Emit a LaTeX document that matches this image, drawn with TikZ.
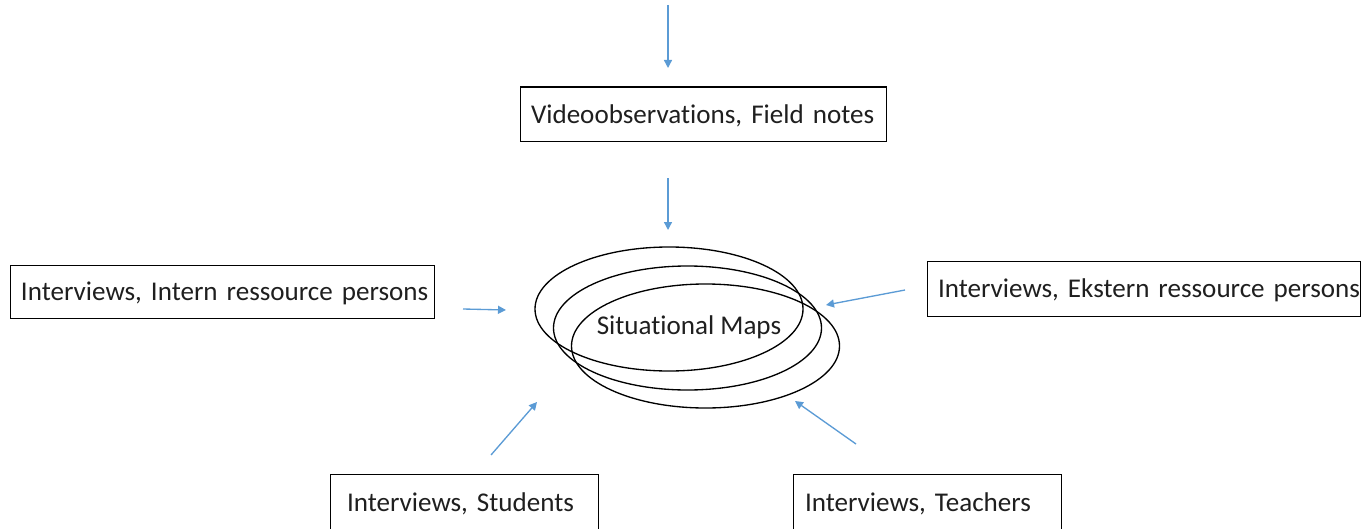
\documentclass[tikz,border=0pt]{standalone}
\usepackage{fontspec}
\setmainfont[Ligatures = {NoCommon}]{Carlito}
\usetikzlibrary{arrows.meta,shapes.geometric}
\definecolor{arrowblue}{HTML}{5B9BD5}
\begin{document}
\begin{tikzpicture}[x = .75pt, y = -.75pt]
		\tikzstyle{every node} = [font = \fontsize{20.3}{24}\selectfont, text = black!88]
		\tikzstyle{source} = [draw, line width = .75pt, inner xsep = 8.25pt, inner ysep = 0pt, text depth = 0pt, align = left]
		\tikzstyle{mapring} = [ellipse, draw, line width = 1pt, inner sep = 0pt, minimum width = 201pt, minimum height = 93pt]
		\tikzstyle{feed} = [draw = arrowblue, line width = 1pt, -{Triangle[length = 6pt, width = 6pt]}]
		\useasboundingbox (0,0) rectangle (1366,528);
		\clip (0,0) rectangle (1366,528);

		% sources
		\node [source, text width = 258pt, minimum height = 40.5pt] (video) at (703,114) {\mbox{Videoobservations, Field notes}};
		\node [source, text width = 301.5pt, minimum height = 39.75pt] (intern) at (222,291.5) {\mbox{Interviews, Intern ressource persons}};
		\node [source, text width = 308.25pt, minimum height = 41.25pt] (ekstern) at (1143.5,288.5) {\mbox{Interviews, Ekstern ressource persons}};
		\node [source, inner xsep = 12.75pt, text width = 175.5pt, minimum height = 42pt] (students) at (464,502) {\mbox{Interviews, Students}};
		\node [source, inner xsep = 9pt, text width = 183pt, minimum height = 42pt] (teachers) at (927,502) {\mbox{Interviews, Teachers}};

		% situational maps
		\foreach \i/\x/\y in {1/669/309, 2/687.5/328, 3/705.5/346}
		{
			\node [mapring] (map\i) at (\x,\y) {};
		}
		\node (maps) at (689,327) {Situational Maps};

		% arrows
		\coordinate (top-a) at (668,5);     \coordinate (top-b) at (668,68);
		\coordinate (video-a) at (668,178); \coordinate (video-b) at (668,230);
		\coordinate (intern-a) at (463,309); \coordinate (intern-b) at (506,310);
		\coordinate (ekstern-a) at (905,290); \coordinate (ekstern-b) at (826,305);
		\coordinate (students-a) at (491,455); \coordinate (students-b) at (537,402);
		\coordinate (teachers-a) at (856,444); \coordinate (teachers-b) at (795,401);
		\foreach \s in {top, video, intern, ekstern, students, teachers}
		{
			\draw [feed] (\s-a) -- (\s-b);
		}
\end{tikzpicture}
\end{document}
